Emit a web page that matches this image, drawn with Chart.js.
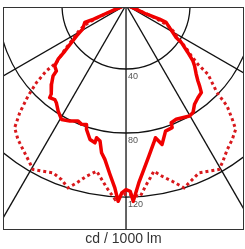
<!DOCTYPE html>
<html>
<head>
<meta charset="utf-8">
<script src="https://cdn.jsdelivr.net/npm/chart.js@4/dist/chart.umd.min.js"></script>
<style>
    body { margin: 0; background: #fff; }
    #wrap { width: 245px; height: 249px; position: relative; }
</style>
</head>
<body>
<div id="wrap"><canvas id="polarChart"></canvas></div>
<script>
// Luminous intensity (cd / 1000 lm), angle in degrees from nadir, negative = left half
const solidAngles = [-90, -68, -67, -66.5, -67, -61, -58, -55.5, -53, -51.4, -49.5, -46.5, -45.8, -43.2, -40, -39.5, -37, -35.5,
    -32.6, -29.4, -25.8, -22.4, -20.4, -18.3, -17.6, -15, -12.7, -12.5, -10.8, -9.4, -7.8, -5.4, -3.5, -2.3, -1.3, 0,
    1.3, 2.1, 4.1, 6.2, 8.6, 11.4, 12.5, 14.5, 17.4, 20.6, 21, 23.7, 29.8, 31.9, 34.6, 37.8, 40.7, 42.3, 43.4, 45.4,
    48.4, 50.1, 52.5, 55.9, 57.1, 62.7, 66.6, 67.2, 65.8, 68, 90];
const solidValues = [0, 6, 14, 22, 28, 31, 36.4, 41.3, 47.8, 54.3, 58.6, 60, 63.6, 68, 72.7, 75, 74, 75,
    78.7, 82.1, 80.6, 78.5, 79.6, 78.6, 81.6, 87, 88.3, 85, 86.6, 93.6, 97.4, 106.4, 114.5, 122.8, 117.5, 115.4,
    116.5, 122.8, 111.5, 103.4, 95.5, 87.8, 85, 90, 82.6, 81.9, 78.8, 78, 79.9, 79.2, 75.4, 73.3, 72.2, 68.3, 65.4, 61.6,
    57.3, 54.5, 48.7, 41.7, 37.3, 30.5, 27.3, 22.7, 13.7, 6, 0];

const dottedAngles = [-90, -68, -66, -64, -61, -57, -54, -52, -50.4, -50.4, -49.1, -47.1, -44.6, -42.2, -38.8, -35.5,
    -31.4, -29.5, -26.5, -23.5, -20.3, -17.6, -15.5, -13, -10, -8.7, -6, -3.2, 0,
    4.3, 6.1, 8, 9.5, 11.9, 14.7, 17.6, 23.5, 26.5, 29.5, 31.4, 35, 38.3, 41.4, 42.9, 45, 46.1, 49.8, 50.5,
    52, 54, 57, 61, 64, 66, 68, 90];
const dottedValues = [0, 8, 20, 29, 34, 40, 47, 52, 56.4, 64.6, 74, 83.6, 94.6, 103.6, 107.8, 110.9,
    115.5, 118.1, 116.1, 114.4, 116.3, 119.9, 115.4, 109.8, 105.5, 108.3, 114.9, 121.8, 118,
    119.9, 113.9, 109.1, 105.3, 109.4, 113.9, 119.9, 114.4, 116.1, 118.1, 115.5, 110.3, 107.1, 103.6, 97.6, 89.3, 78.9, 67, 58.2,
    52, 47, 40, 34, 29, 20, 8, 0];

const rings = [40, 80, 120];
const ringLabels = ['40', '80', '120'];
const spokes = [-60, -30, 0, 30, 60];

function toXY(angles, values) {
    return angles.map(function(a, i) {
        const rad = a * Math.PI / 180;
        return { x: values[i] * Math.sin(rad), y: -values[i] * Math.cos(rad) };
    });
}

// polar grid drawn from the scales
const polarGrid = {
    id: 'polarGrid',
    beforeDatasetsDraw(chart) {
        const ctx = chart.ctx;
        const area = chart.chartArea;
        const xs = chart.scales.x, ys = chart.scales.y;
        const cx = xs.getPixelForValue(0);
        const cy = ys.getPixelForValue(0);
        const k = xs.getPixelForValue(1) - cx;

        ctx.save();
        ctx.beginPath();
        ctx.rect(area.left, area.top, area.right - area.left, area.bottom - area.top);
        ctx.clip();
        ctx.strokeStyle = '#111';
        ctx.lineWidth = 1.3;

        rings.forEach(function(r) {
            ctx.beginPath();
            ctx.arc(cx, cy, r * k, 0, Math.PI * 2);
            ctx.stroke();
        });

        spokes.forEach(function(a) {
            const rad = a * Math.PI / 180;
            ctx.beginPath();
            ctx.moveTo(cx, cy);
            ctx.lineTo(cx + Math.sin(rad) * 300 * k, cy + Math.cos(rad) * 300 * k);
            ctx.stroke();
        });

        ctx.fillStyle = '#555';
        ctx.font = '9px Arial, "Liberation Sans", sans-serif';
        ctx.textAlign = 'left';
        ctx.textBaseline = 'top';
        rings.forEach(function(r, i) {
            ctx.fillText(ringLabels[i], cx + 2, cy + r * k + 3);
        });
        ctx.restore();
    },
    afterDraw(chart) {
        const ctx = chart.ctx;
        const area = chart.chartArea;
        ctx.save();
        ctx.strokeStyle = '#333';
        ctx.lineWidth = 1;
        ctx.strokeRect(Math.round(area.left) - 0.5, Math.round(area.top) - 0.5,
            Math.round(area.right - area.left) + 1, Math.round(area.bottom - area.top) + 1);
        ctx.restore();
    }
};

new Chart(document.getElementById('polarChart'), {
    type: 'scatter',
    data: {
        datasets: [{
            label: 'C0-C180',
            data: toXY(solidAngles, solidValues),
            showLine: true,
            borderColor: '#f00000',
            borderWidth: 3.5,
            borderJoinStyle: 'round',
            pointRadius: 0,
            tension: 0,
            clip: 0
        }, {
            label: 'C90-C270',
            data: toXY(dottedAngles, dottedValues),
            showLine: true,
            borderColor: '#d8181c',
            borderWidth: 3,
            borderDash: [3, 3],
            pointRadius: 0,
            tension: 0,
            clip: 0
        }]
    },
    options: {
        responsive: true,
        maintainAspectRatio: false,
        animation: false,
        layout: {
            padding: { left: 4, top: 8, right: 2, bottom: 0 }
        },
        scales: {
            x: { type: 'linear', min: -76.25, max: 73.1, display: false },
            y: { type: 'linear', min: -140, max: -1.875, display: false }
        },
        plugins: {
            legend: { display: false },
            tooltip: { enabled: false },
            title: {
                display: true,
                position: 'bottom',
                text: 'cd / 1000 lm',
                color: '#333',
                font: { family: 'Arial, "Liberation Sans", sans-serif', size: 14, weight: 'normal' },
                padding: { top: 2, bottom: 1.2 }
            }
        }
    },
    plugins: [polarGrid]
});
</script>
</body>
</html>
